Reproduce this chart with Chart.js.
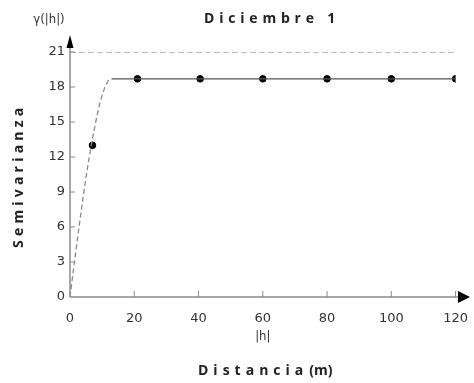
<!DOCTYPE html>
<html>
<head>
<meta charset="utf-8">
<script src="https://cdn.jsdelivr.net/npm/chart.js@4.4.1/dist/chart.umd.min.js"></script>
<style>
  html, body { margin: 0; padding: 0; background: #fff; }
  #wrap { width: 474px; height: 383px; }
</style>
</head>
<body>
<div id="wrap"><canvas id="chart" width="474" height="383"></canvas></div>
<script>
  // observed semivariance
  const obsLag = [7, 21, 40.5, 60, 80, 100, 120];
  const obsGamma = [13, 18.7, 18.7, 18.7, 18.7, 18.7, 18.7];

  const modelLag = [0, 1, 2, 3, 4, 5, 6, 7, 8, 9, 10, 11, 12, 13];
  const modelGamma = [0, 2.2, 4.3, 6.4, 8.4, 10.3, 12.0, 13.6, 15.0, 16.3, 17.3, 18.1, 18.6, 18.7];
  const plateauLag = [13, 120];
  const plateauGamma = [18.7, 18.7];

  // sill
  const sillLag = [0, 120];
  const sillGamma = [21, 21];

  const xTicks = [0, 20, 40, 60, 80, 100, 120];
  const yTicks = [0, 3, 6, 9, 12, 15, 18, 21];

  function toPoints(xs, ys) {
    return xs.map(function (x, i) { return { x: x, y: ys[i] }; });
  }

  // 'condensed' goes in front of the size in the canvas font string
  const tickFont = { family: "'DejaVu Sans', sans-serif", size: 13, style: 'condensed' };
  const narrow = "condensed 13px 'DejaVu Sans', sans-serif";

  function spaced(ctx, text, x, y, gap) {
    // draw letter by letter so the gaps are even
    let cx = x;
    for (const ch of text) {
      ctx.fillText(ch, cx, y);
      cx += ctx.measureText(ch).width + gap;
    }
    return cx;
  }

  const axesPlugin = {
    id: 'axesArrows',
    afterDraw: function (chart) {
      const ctx = chart.ctx;
      const xs = chart.scales.x;
      const ys = chart.scales.y;
      const x0 = xs.getPixelForValue(0);
      const y0 = ys.getPixelForValue(0);

      ctx.save();
      ctx.strokeStyle = '#8a8a8a';
      ctx.lineWidth = 1.5;
      ctx.beginPath();
      ctx.moveTo(x0, y0);
      ctx.lineTo(x0, 40);
      ctx.moveTo(x0, y0);
      ctx.lineTo(464, y0);
      ctx.stroke();

      // inside tick marks
      ctx.lineWidth = 1;
      ctx.beginPath();
      xTicks.forEach(function (v) {
        if (v === 0) return;
        const px = xs.getPixelForValue(v);
        ctx.moveTo(px, y0);
        ctx.lineTo(px, y0 - 6);
      });
      yTicks.forEach(function (v) {
        if (v === 0) return;
        const py = ys.getPixelForValue(v);
        ctx.moveTo(x0, py);
        ctx.lineTo(x0 + 5, py);
      });
      ctx.stroke();

      // arrow heads
      ctx.fillStyle = '#000';
      ctx.beginPath();
      ctx.moveTo(x0, 35);
      ctx.lineTo(x0 - 3.5, 48);
      ctx.lineTo(x0 + 3.5, 48);
      ctx.closePath();
      ctx.fill();
      ctx.beginPath();
      ctx.moveTo(470, y0);
      ctx.lineTo(458, y0 - 6);
      ctx.lineTo(458, y0 + 6);
      ctx.closePath();
      ctx.fill();

      // texts
      ctx.fillStyle = '#222';
      ctx.textBaseline = 'middle';
      ctx.textAlign = 'left';
      ctx.font = "bold 14px 'Open Sans', sans-serif";
      spaced(ctx, 'Diciembre 1', 204, 19, 4.8);
      const end = spaced(ctx, 'Distancia', 198, 371, 5);
      ctx.fillText('(m)', end + 1, 371);

      ctx.save();
      ctx.translate(19, 248);
      ctx.rotate(-Math.PI / 2);
      spaced(ctx, 'Semivarianza', 0, 0, 4.2);
      ctx.restore();

      ctx.fillStyle = '#333';
      ctx.font = narrow;
      ctx.textAlign = 'center';
      ctx.fillText('|h|', xs.getPixelForValue(60), 337);
      ctx.fillText('\u03b3(|h|)', 49, 20);
      ctx.restore();
    }
  };

  new Chart(document.getElementById('chart'), {
    type: 'scatter',
    data: {
      datasets: [
        {
          data: toPoints(sillLag, sillGamma),
          showLine: true,
          borderColor: '#ababab',
          borderWidth: 1.5,
          borderDash: [6, 3],
          pointRadius: 0
        },
        {
          data: toPoints(modelLag, modelGamma),
          showLine: true,
          borderColor: '#8a8a8a',
          borderWidth: 1.3,
          borderDash: [5, 3],
          pointRadius: 0,
          tension: 0
        },
        {
          data: toPoints(plateauLag, plateauGamma),
          showLine: true,
          borderColor: '#555',
          borderWidth: 1.4,
          pointRadius: 0
        },
        {
          data: toPoints(obsLag, obsGamma),
          showLine: false,
          backgroundColor: '#000',
          borderColor: '#000',
          pointRadius: 3.3,
          pointStyle: 'circle'
        }
      ]
    },
    options: {
      responsive: false,
      animation: false,
      events: [],
      layout: { padding: { top: 52, right: 16, left: 0, bottom: 0 } },
      plugins: {
        legend: { display: false },
        tooltip: { enabled: false }
      },
      scales: {
        x: {
          type: 'linear',
          min: 0,
          max: 120,
          grid: { display: false },
          border: { display: false },
          afterBuildTicks: function (scale) {
            scale.ticks = xTicks.map(function (v) { return { value: v }; });
          },
          afterFit: function (scale) { scale.height = 86; },
          ticks: { color: '#333', font: tickFont, padding: 6, maxRotation: 0 }
        },
        y: {
          type: 'linear',
          min: 0,
          max: 21,
          grid: { display: false },
          border: { display: false },
          afterBuildTicks: function (scale) {
            scale.ticks = yTicks.map(function (v) { return { value: v }; });
          },
          afterFit: function (scale) { scale.width = 70; },
          ticks: { color: '#333', font: tickFont, padding: -3 }
        }
      }
    },
    plugins: [axesPlugin]
  });
</script>
</body>
</html>
